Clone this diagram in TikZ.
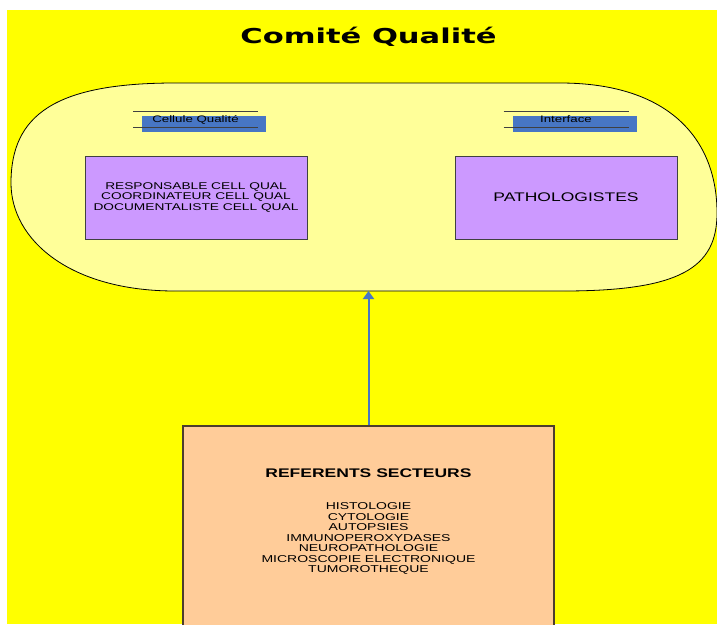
\documentclass[tikz,border=0pt]{standalone}
\usepackage{fontspec}
\setmainfont{Liberation Sans}
\newfontfamily\titlefont{DejaVu Sans}
\usetikzlibrary{arrows.meta, positioning}

\definecolor{fond}{RGB}{255,255,0}
\definecolor{comitefill}{RGB}{255,255,153}
\definecolor{bandeau}{RGB}{71,118,196}
\definecolor{mauve}{RGB}{204,153,255}
\definecolor{peche}{RGB}{255,204,153}
\definecolor{trait}{RGB}{64,64,64}

\tikzset{
    stretched/.style={xscale=1.4, transform shape, inner sep=0pt},
    role/.style={draw=black!75, fill=mauve, line width=0.8pt,
                 minimum width=222pt, minimum height=83pt, inner sep=0pt},
    flow/.style={draw=bandeau, line width=2pt, -{Triangle[width=11pt,length=8pt]}},
}

\begin{document}
\begin{tikzpicture}[x=1pt, y=-1pt]
%% Background
\useasboundingbox (0,0) rectangle (717,624);
\clip (0,0) rectangle (717,624);
\fill[white] (0,0) rectangle (717,624);
\fill[fond] (7,10) rectangle (717,624);

%% Title
\coordinate (p-titre) at (368.5,43.5);
\node[xscale=1.49, transform shape, inner sep=0pt, anchor=base,
      font=\titlefont\bfseries\fontsize{20.5}{24}\selectfont] (titre) at (p-titre) {Comité Qualité};

%% Committee outline
\draw[fill=comitefill, line width=0.8pt]
    (175,83) -- (560,83)
    .. controls (670,83) and (717,140) .. (717,213)
    .. controls (717,268) and (680,291) .. (563,291)
    -- (175,291)
    .. controls (70,291) and (11,240) .. (11,183)
    .. controls (11,115) and (55,83) .. (175,83) -- cycle;
\coordinate (comite-bas) at (368.5,291);

%% Labels
\foreach \nom/\x/\texte in {cellule/195.5/Cellule Qualité, interface/566/Interface} {
  \fill[bandeau] (\x-53.5,116) rectangle (\x+70.5,132);
  \coordinate (p-\nom) at (\x,122.6);
  \node[stretched, anchor=base, font=\fontsize{9.5}{11}\selectfont] (\nom) at (p-\nom) {\texte};
  \draw[trait, line width=0.8pt] (\x-62.5,111) -- (\x+62.5,111);
  \draw[trait, line width=0.8pt] (\x-62.5,127) -- (\x+62.5,127);
}

%% Members
\node[role] (responsable) at (196,197.5) {};
\node[stretched, align=center, font=\fontsize{9.8}{10.6}\selectfont] (responsable-txt)
    at (responsable.center) {RESPONSABLE CELL QUAL\\COORDINATEUR CELL QUAL\\DOCUMENTALISTE CELL QUAL};
\node[role] (pathologistes) at (566,197.5) {};
\node[stretched, font=\fontsize{12.5}{14}\selectfont] (pathologistes-txt)
    at (pathologistes.center) {PATHOLOGISTES};

%% Sector referents
\node[draw=black!70!peche, fill=peche, line width=1.2pt,
      minimum width=371pt, minimum height=214pt] (secteurs) at (368.5,533) {};
\node[stretched, anchor=base, font=\bfseries\fontsize{12.5}{14}\selectfont,
      below=52.3pt of secteurs.north, anchor=base] (referents) {REFERENTS SECTEURS};
\node[stretched, align=center, font=\fontsize{10}{10.45}\selectfont,
      below=77.3pt of secteurs.north] (disciplines)
    {HISTOLOGIE\\CYTOLOGIE\\AUTOPSIES\\IMMUNOPEROXYDASES\\NEUROPATHOLOGIE\\MICROSCOPIE ELECTRONIQUE\\TUMOROTHEQUE};

%% Link
\draw[flow] (secteurs.north) -- (comite-bas);
\end{tikzpicture}
\end{document}
